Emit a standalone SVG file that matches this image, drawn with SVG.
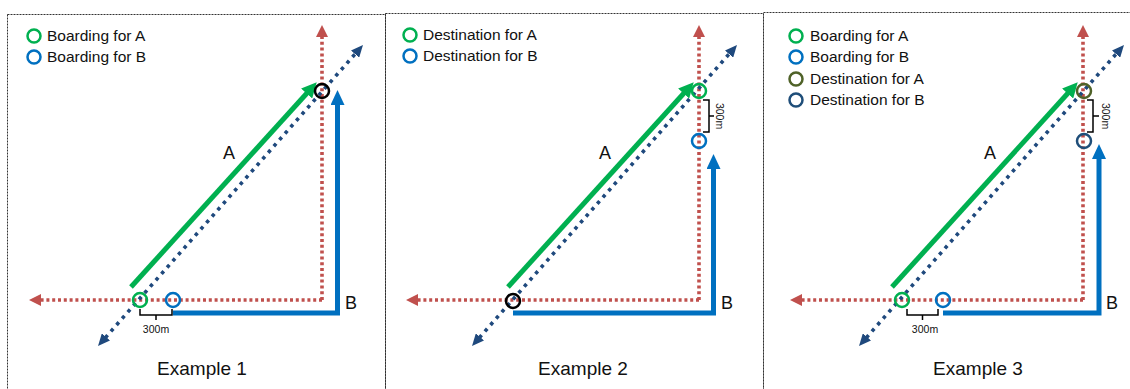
<svg xmlns="http://www.w3.org/2000/svg" width="1130" height="389" viewBox="0 0 1130 389">
<style>
.frame{fill:none;stroke:#333;stroke-width:1;stroke-dasharray:2 1}
.red{fill:none;stroke:#C0504D;stroke-width:3.6;stroke-dasharray:3 2.8}
.navy{fill:none;stroke:#1F497D;stroke-width:3.6;stroke-dasharray:3.5 5}
.green{fill:none;stroke:#00B050;stroke-width:5}
.blue{fill:none;stroke:#0070C0;stroke-width:5;stroke-linejoin:miter}
.brk{fill:none;stroke:#000;stroke-width:1.5}
.ring{fill:none;stroke-width:2.5}
.lg{font-family:"Liberation Sans",Arial,sans-serif;font-size:15.5px;fill:#111}
.big{font-family:"Liberation Sans",Arial,sans-serif;font-size:18px;fill:#111;text-anchor:middle}
.ex{font-family:"Liberation Sans",Arial,sans-serif;font-size:19px;fill:#111;text-anchor:middle}
.sm{font-family:"Liberation Sans",Arial,sans-serif;font-size:10.5px;fill:#111;text-anchor:middle}
</style>
<defs>
<marker id="aRed" markerUnits="userSpaceOnUse" markerWidth="12" markerHeight="12" refX="1" refY="6" orient="auto"><path d="M0,0 L12,6 L0,12 z" fill="#C0504D"/></marker>
<marker id="aNavy" markerUnits="userSpaceOnUse" markerWidth="12" markerHeight="11" refX="1" refY="5.5" orient="auto-start-reverse"><path d="M0,0 L12,5.5 L0,11 z" fill="#1F497D"/></marker>
<marker id="aGreen" markerUnits="userSpaceOnUse" markerWidth="15" markerHeight="15" refX="2" refY="7.5" orient="auto"><path d="M0,0 L15,7.5 L0,15 z" fill="#00B050"/></marker>
<marker id="aBlue" markerUnits="userSpaceOnUse" markerWidth="15" markerHeight="14" refX="2" refY="7" orient="auto"><path d="M0,0 L15,7 L0,14 z" fill="#0070C0"/></marker>
</defs>

<g id="frames">
<rect class="frame" x="7.5" y="14.5" width="378" height="400"/>
<rect class="frame" x="385.5" y="13.5" width="378" height="400"/>
<rect class="frame" x="763.5" y="12.5" width="380" height="400"/>
</g>

<!-- Example 1 -->
<g id="example1">
<g id="connectors1">
<path class="red" d="M322,300 V36" marker-end="url(#aRed)"/>
<path class="red" d="M322,300 H40" marker-end="url(#aRed)"/>
<path class="navy" d="M105.3,337.7 L355.7,53.3" marker-start="url(#aNavy)" marker-end="url(#aNavy)"/>
<path class="green" d="M131,287 L308,92" marker-end="url(#aGreen)"/>
<path class="blue" d="M173,313 H337.5 V103" marker-end="url(#aBlue)"/>
<path class="brk" d="M140,309 V315 H172 V309 M156,315 V320"/>
</g>
<g id="p1-board-a"><circle class="ring" cx="140" cy="300" r="7" stroke="#00B050"/></g>
<g id="p1-board-b"><circle class="ring" cx="173" cy="300" r="7" stroke="#0070C0"/></g>
<g id="p1-junction"><circle class="ring" cx="322" cy="91" r="7" stroke="#000"/></g>
<g id="p1-legend">
<circle class="ring" cx="34" cy="36" r="6.5" stroke="#00B050"/><text class="lg" x="47" y="41">Boarding for A</text>
<circle class="ring" cx="34" cy="57" r="6.5" stroke="#0070C0"/><text class="lg" x="47" y="62">Boarding for B</text>
</g>
<text class="sm" x="156" y="333">300m</text>
<text class="big" x="229" y="159">A</text>
<text class="big" x="351" y="309">B</text>
<text class="ex" x="202" y="375">Example 1</text>
</g>

<!-- Example 2 -->
<g id="example2" transform="translate(377,0)">
<g id="connectors2">
<path class="red" d="M322,300 V36" marker-end="url(#aRed)"/>
<path class="red" d="M322,300 H40" marker-end="url(#aRed)"/>
<path class="navy" d="M102.3,337.7 L352.7,53.3" marker-start="url(#aNavy)" marker-end="url(#aNavy)"/>
<path class="green" d="M131,287 L308,92" marker-end="url(#aGreen)"/>
<path class="blue" d="M136,313 H336.5 V167" marker-end="url(#aBlue)"/>
<path class="brk" d="M326,100 H332 V132 H326 M332,116 H337"/>
</g>
<g id="p2-dest-a"><circle class="ring" cx="322" cy="91" r="7" stroke="#00B050"/></g>
<g id="p2-dest-b"><circle class="ring" cx="322" cy="141" r="7" stroke="#0070C0"/></g>
<g id="p2-junction"><circle class="ring" cx="136" cy="301" r="7" stroke="#000"/></g>
<g id="p2-legend">
<circle class="ring" cx="33" cy="35" r="6.5" stroke="#00B050"/><text class="lg" x="46" y="40">Destination for A</text>
<circle class="ring" cx="33" cy="56" r="6.5" stroke="#0070C0"/><text class="lg" x="46" y="61">Destination for B</text>
</g>
<text class="sm" transform="translate(339,116) rotate(90)">300m</text>
<text class="big" x="228" y="159">A</text>
<text class="big" x="350" y="309">B</text>
<text class="ex" x="206" y="375">Example 2</text>
</g>

<!-- Example 3 -->
<g id="example3" transform="translate(761,0)">
<g id="connectors3">
<path class="red" d="M322,300 V36" marker-end="url(#aRed)"/>
<path class="red" d="M322,300 H40" marker-end="url(#aRed)"/>
<path class="navy" d="M105.3,337.7 L355.7,53.3" marker-start="url(#aNavy)" marker-end="url(#aNavy)"/>
<path class="green" d="M131,287 L308,92" marker-end="url(#aGreen)"/>
<path class="blue" d="M182,313 H338 V157" marker-end="url(#aBlue)"/>
<path class="brk" d="M146,309 V315 H177 V309 M161.5,315 V320"/>
<path class="brk" d="M326,100 H332 V132 H326 M332,116 H338"/>
</g>
<g id="p3-board-a"><circle class="ring" cx="141" cy="300" r="7" stroke="#00B050"/></g>
<g id="p3-board-b"><circle class="ring" cx="182" cy="300" r="7" stroke="#0070C0"/></g>
<g id="p3-dest-a"><circle class="ring" cx="323" cy="91" r="7" stroke="#4F6228"/></g>
<g id="p3-dest-b"><circle class="ring" cx="323" cy="141" r="7" stroke="#1F4E79"/></g>
<g id="p3-legend">
<circle class="ring" cx="35" cy="36" r="6.5" stroke="#00B050"/><text class="lg" x="49" y="41">Boarding for A</text>
<circle class="ring" cx="35" cy="57" r="6.5" stroke="#0070C0"/><text class="lg" x="49" y="62">Boarding for B</text>
<circle class="ring" cx="35" cy="79" r="6.5" stroke="#4F6228"/><text class="lg" x="49" y="84">Destination for A</text>
<circle class="ring" cx="35" cy="100" r="6.5" stroke="#1F4E79"/><text class="lg" x="49" y="105">Destination for B</text>
</g>
<text class="sm" x="164" y="333">300m</text>
<text class="sm" transform="translate(341,116) rotate(90)">300m</text>
<text class="big" x="229" y="159">A</text>
<text class="big" x="351" y="309">B</text>
<text class="ex" x="217" y="375">Example 3</text>
</g>
</svg>
